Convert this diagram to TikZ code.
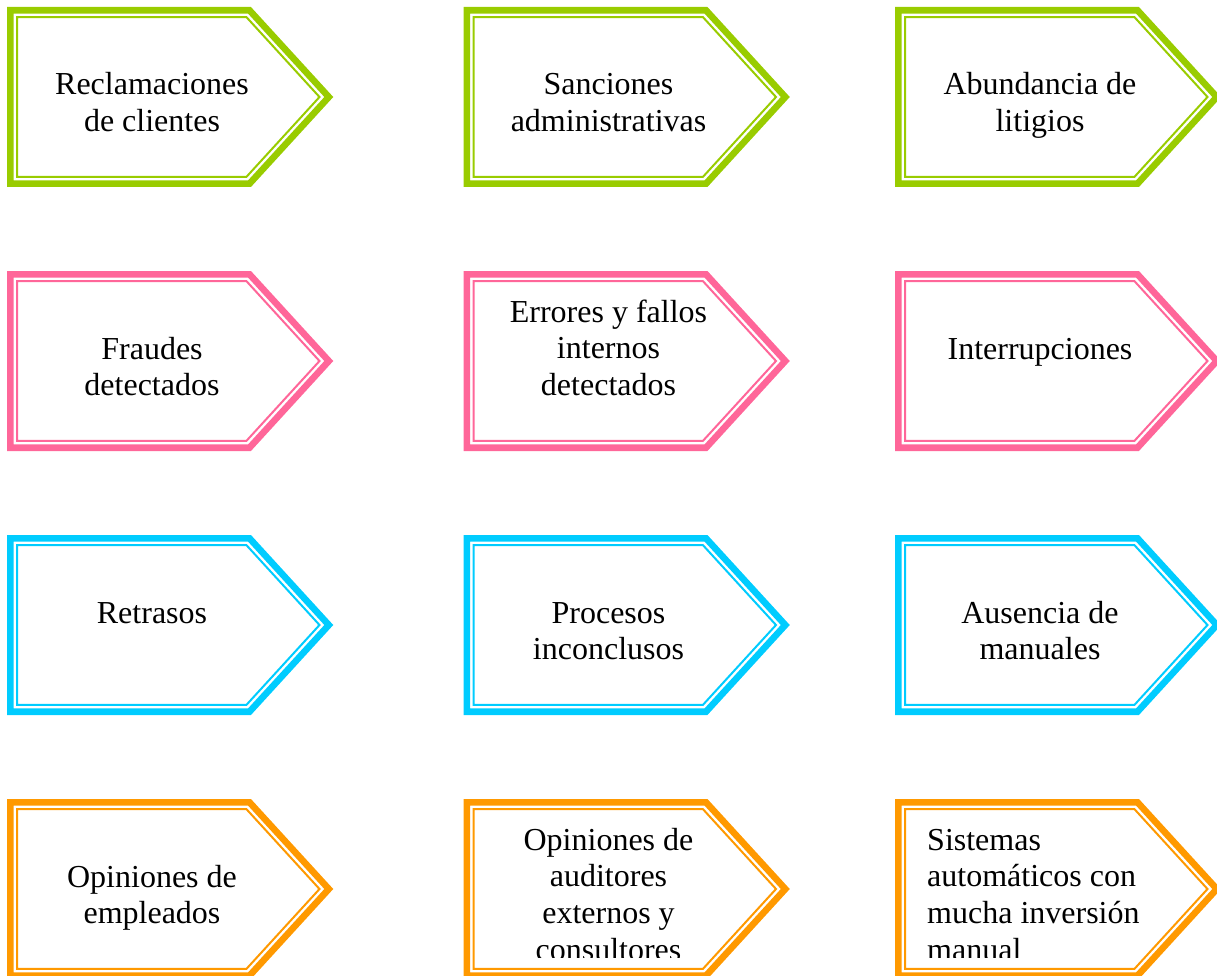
\documentclass[tikz,border=0pt]{standalone}
\usepackage{fontspec}
\setmainfont{Liberation Serif}
\definecolor{rimgreen}{HTML}{99CC00}
\definecolor{rimpink}{HTML}{FF6699}
\definecolor{rimcyan}{HTML}{00CCFF}
\definecolor{rimorange}{HTML}{FF9900}
\tikzset{
  rimthick/.style={line width=6.6pt, line join=miter, miter limit=10},
  rimthin/.style={line width=2pt, line join=miter, miter limit=10},
  tagtext/.style={font=\fontsize{32}{36.8}\selectfont, align=center, inner sep=0pt, anchor=base},
  tagtextleft/.style={font=\fontsize{32}{36.8}\selectfont, align=left, inner sep=0pt, anchor=base west},
}
% pentagon tag with a thick-thin double rim; #1 left, #2 top, #3 colour
\newcommand\tagshape[3]{%
  \begin{scope}[shift={(#1,#2)}]
    \draw[rimthick, draw=#3] (3.3,3.3) -- (242.5,3.3) -- (321.8,90) -- (242.5,176.7) -- (3.3,176.7) -- cycle;
    \draw[rimthin, draw=#3] (10.2,10.2) -- (239.5,10.2) -- (312.5,90) -- (239.5,169.8) -- (10.2,169.8) -- cycle;
  \end{scope}}
\begin{document}
\begin{tikzpicture}[x=1pt, y=-1pt]
  \useasboundingbox (0,0) rectangle (1217,976);
  \clip (0,0) rectangle (1217,976);

  % row 1
  \tagshape{7}{7}{rimgreen}
  \tagshape{463.5}{7}{rimgreen}
  \tagshape{895}{7}{rimgreen}
  % row 2
  \tagshape{7}{271}{rimpink}
  \tagshape{463.5}{271}{rimpink}
  \tagshape{895}{271}{rimpink}
  % row 3
  \tagshape{7}{535}{rimcyan}
  \tagshape{463.5}{535}{rimcyan}
  \tagshape{895}{535}{rimcyan}
  % row 4
  \tagshape{7}{799}{rimorange}
  \tagshape{463.5}{799}{rimorange}
  \tagshape{895}{799}{rimorange}

  % node positions are given at the baseline of the last line
  \node[tagtext] (t11) at (152,131.8) {Reclamaciones\\de clientes};
  \node[tagtext] (t12) at (608.5,131.8) {Sanciones\\administrativas};
  \node[tagtext] (t13) at (1040,131.8) {Abundancia de\\litigios};

  \node[tagtext] (t21) at (152,395.8) {Fraudes\\detectados};
  \node[tagtext] (t22) at (608.5,395.6) {Errores y fallos\\internos\\detectados};
  \node[tagtext] (t23) at (1040,359) {Interrupciones};

  \node[tagtext] (t31) at (152,623) {Retrasos};
  \node[tagtext] (t32) at (608.5,659.8) {Procesos\\inconclusos};
  \node[tagtext] (t33) at (1040,659.8) {Ausencia de\\manuales};

  \node[tagtext] (t41) at (152,923.8) {Opiniones de\\empleados};
  \begin{scope}
    % overflowing text is cut off inside the tag
    \clip (0,0) rectangle (1217,957);
    \node[tagtext] (t42) at (608.5,960.4) {Opiniones de\\auditores\\externos y\\consultores};
    \node[tagtextleft] (t43) at (927,960.4) {Sistemas\\automáticos con\\mucha inversión\\manual};
  \end{scope}
\end{tikzpicture}
\end{document}
